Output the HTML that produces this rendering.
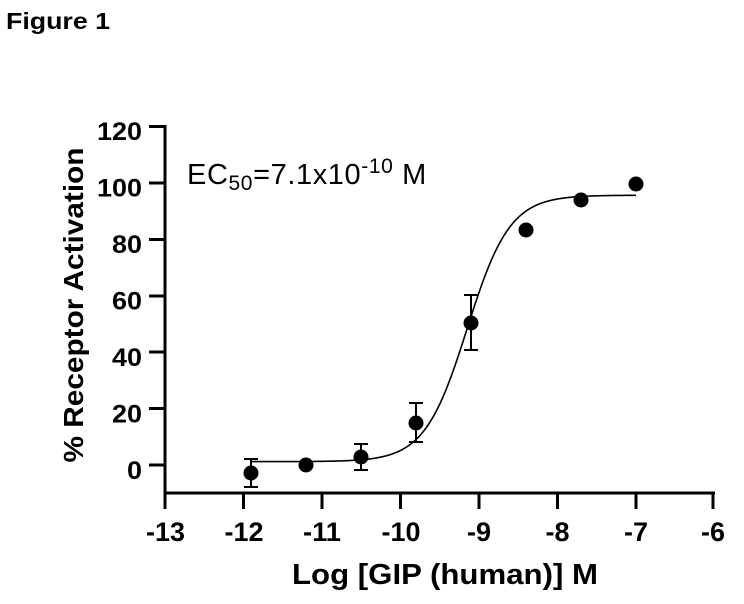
<!DOCTYPE html>
<html><head><meta charset="utf-8"><style>
body{margin:0;background:#fff;width:744px;height:604px;overflow:hidden}
svg{display:block;font-family:"Liberation Sans",Arial,sans-serif}
</style></head><body>
<svg width="744" height="604" viewBox="0 0 744 604" xmlns="http://www.w3.org/2000/svg">
<text x="6" y="29" font-size="23" font-weight="bold" textLength="104" lengthAdjust="spacingAndGlyphs">Figure 1</text>
<g stroke="#000" stroke-width="3" fill="none">
<line x1="165" y1="125" x2="165" y2="494"/>
<line x1="164" y1="493" x2="715" y2="493"/>
<line x1="149" y1="126.5" x2="165" y2="126.5"/>
<line x1="149" y1="183" x2="165" y2="183"/>
<line x1="149" y1="239.5" x2="165" y2="239.5"/>
<line x1="149" y1="296" x2="165" y2="296"/>
<line x1="149" y1="352" x2="165" y2="352"/>
<line x1="149" y1="408.5" x2="165" y2="408.5"/>
<line x1="149" y1="465" x2="165" y2="465"/>
<line x1="165" y1="493" x2="165" y2="509"/>
<line x1="243.5" y1="493" x2="243.5" y2="509"/>
<line x1="322" y1="493" x2="322" y2="509"/>
<line x1="400.5" y1="493" x2="400.5" y2="509"/>
<line x1="479" y1="493" x2="479" y2="509"/>
<line x1="557.5" y1="493" x2="557.5" y2="509"/>
<line x1="636" y1="493" x2="636" y2="509"/>
<line x1="713" y1="493" x2="713" y2="509"/>
</g>
<g font-size="25" font-weight="bold" text-anchor="end">
<text x="142" y="140" textLength="45" lengthAdjust="spacingAndGlyphs">120</text>
<text x="142" y="196.5" textLength="45" lengthAdjust="spacingAndGlyphs">100</text>
<text x="142" y="253" textLength="30" lengthAdjust="spacingAndGlyphs">80</text>
<text x="142" y="309.5" textLength="30" lengthAdjust="spacingAndGlyphs">60</text>
<text x="142" y="366" textLength="30" lengthAdjust="spacingAndGlyphs">40</text>
<text x="142" y="422.5" textLength="30" lengthAdjust="spacingAndGlyphs">20</text>
<text x="142" y="479" textLength="15" lengthAdjust="spacingAndGlyphs">0</text>
</g>
<g font-size="27" font-weight="bold">
<text x="146" y="541" textLength="39" lengthAdjust="spacingAndGlyphs">-13</text>
<text x="224.5" y="541" textLength="39" lengthAdjust="spacingAndGlyphs">-12</text>
<text x="303" y="541" textLength="38" lengthAdjust="spacingAndGlyphs">-11</text>
<text x="381.5" y="541" textLength="39" lengthAdjust="spacingAndGlyphs">-10</text>
<text x="467" y="541" textLength="24" lengthAdjust="spacingAndGlyphs">-9</text>
<text x="545.5" y="541" textLength="24" lengthAdjust="spacingAndGlyphs">-8</text>
<text x="624" y="541" textLength="24" lengthAdjust="spacingAndGlyphs">-7</text>
<text x="701" y="541" textLength="24" lengthAdjust="spacingAndGlyphs">-6</text>
</g>
<text x="292" y="584" font-size="29" font-weight="bold" textLength="306" lengthAdjust="spacingAndGlyphs">Log [GIP (human)] M</text>
<text transform="translate(83,305) rotate(-90)" font-size="28" font-weight="bold" text-anchor="middle" textLength="315" lengthAdjust="spacingAndGlyphs">% Receptor Activation</text>
<text x="187" y="184" font-size="29" letter-spacing="0.6">EC<tspan font-size="21" dy="6">50</tspan><tspan dy="-6">=7.1x10</tspan><tspan font-size="21" dy="-11">-10</tspan><tspan dy="11"> M</tspan></text>
<path id="c" fill="none" stroke="#000" stroke-width="1.6" d=""/>
<g stroke="#000" stroke-width="2" fill="none">
<line x1="251" y1="459" x2="251" y2="487"/><line x1="244" y1="459" x2="258" y2="459"/><line x1="244" y1="487" x2="258" y2="487"/>
<line x1="361" y1="444" x2="361" y2="470"/><line x1="354" y1="444" x2="368" y2="444"/><line x1="354" y1="470" x2="368" y2="470"/>
<line x1="416" y1="403" x2="416" y2="442"/><line x1="409" y1="403" x2="423" y2="403"/><line x1="409" y1="442" x2="423" y2="442"/>
<line x1="471" y1="295" x2="471" y2="350"/><line x1="464" y1="295" x2="478" y2="295"/><line x1="464" y1="350" x2="478" y2="350"/>
</g>
<g fill="#000">
<circle cx="251" cy="473" r="7.5"/>
<circle cx="306" cy="465" r="7.5"/>
<circle cx="361" cy="457" r="7.5"/>
<circle cx="416" cy="423" r="7.5"/>
<circle cx="471" cy="323" r="7.5"/>
<circle cx="526" cy="230" r="7.5"/>
<circle cx="581" cy="200" r="7.5"/>
<circle cx="636" cy="184" r="7.5"/>
</g>
<script>
(function(){var d="";for(var i=0;i<=200;i++){var x=-11.9+i*(4.9/200);var v=1.2+94.3/(1+Math.pow(10,(-9.15-x)*1.6));var px=165+(x+13)*78.5;var py=465-v*2.825;d+=(i?"L":"M")+px.toFixed(2)+" "+py.toFixed(2);}document.getElementById("c").setAttribute("d",d);})();
</script>
</svg>
</body></html>
